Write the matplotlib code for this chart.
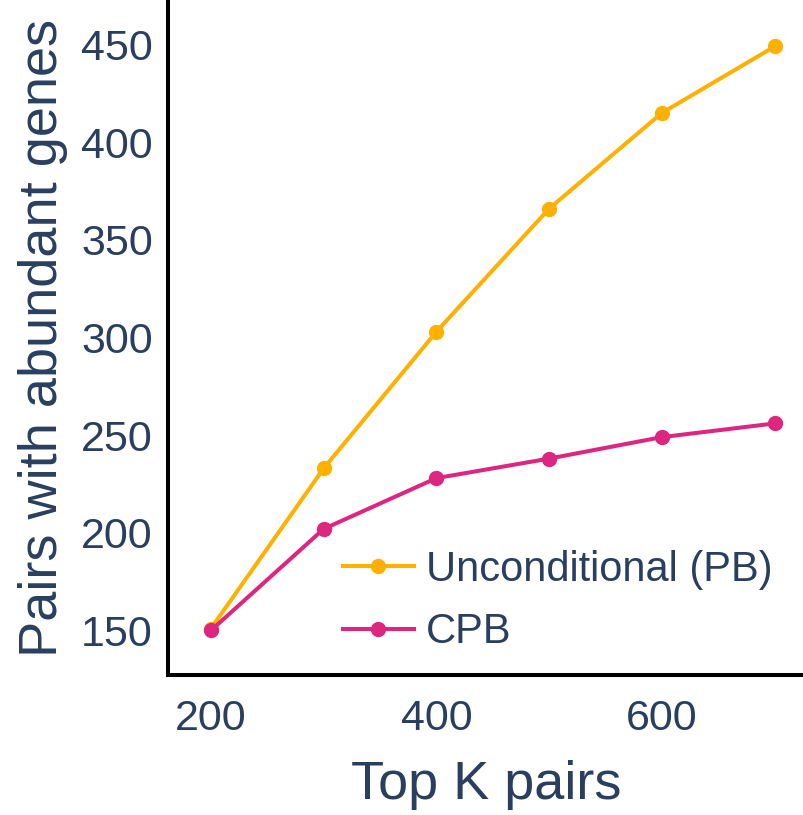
import matplotlib
matplotlib.use("Agg")
import matplotlib.pyplot as plt

# values
top_k = [200, 300, 400, 500, 600, 700]
unconditional_pb = [151, 233, 303, 366, 415, 449]
cpb = [150, 202, 228, 238, 249, 256]

x_ticks = [200, 400, 600]
y_ticks = [150, 200, 250, 300, 350, 400, 450]

TEXT = "#2a3f5f"
ORANGE = "#FFB000"
PINK = "#DC267F"

plt.rcParams["font.family"] = ["Liberation Sans", "DejaVu Sans"]

W, H = 804, 815
fig = plt.figure(figsize=(W / 100, H / 100), dpi=100)
# plot area in pixels: left spine x=168, bottom spine y=675
ax = fig.add_axes([168 / W, 1 - 675 / H, 1 - 168 / W, 675 / H])

ax.plot(top_k, unconditional_pb, color=ORANGE, lw=2.9, marker="o", ms=10,
        label="Unconditional (PB)", clip_on=False, zorder=3)
ax.plot(top_k, cpb, color=PINK, lw=2.9, marker="o", ms=10,
        label="CPB", clip_on=False, zorder=4)

ax.set_xlim(161.9, 726)
ax.set_ylim(127.2, 472.8)
ax.set_xticks(x_ticks)
ax.set_yticks(y_ticks)

for side in ("top", "right"):
    ax.spines[side].set_visible(False)
for side in ("left", "bottom"):
    ax.spines[side].set_linewidth(2.9)
    ax.spines[side].set_color("black")

ax.tick_params(axis="both", length=0, labelsize=31, labelcolor=TEXT)
ax.tick_params(axis="y", pad=11)
ax.tick_params(axis="x", pad=17.5)

ax.set_xlabel("Top K pairs", fontsize=39, color=TEXT, labelpad=15)
ax.set_ylabel("Pairs with abundant genes", fontsize=39, color=TEXT, labelpad=9.5)

leg = ax.legend(loc="center left", bbox_to_anchor=(343 / W, 1 - 601 / H),
                bbox_transform=fig.transFigure, frameon=False, fontsize=30,
                handlelength=1.7, handletextpad=0.3, labelspacing=0.55,
                borderpad=0, borderaxespad=0)
for t in leg.get_texts():
    t.set_color(TEXT)

fig.savefig("out.png", dpi=100)
